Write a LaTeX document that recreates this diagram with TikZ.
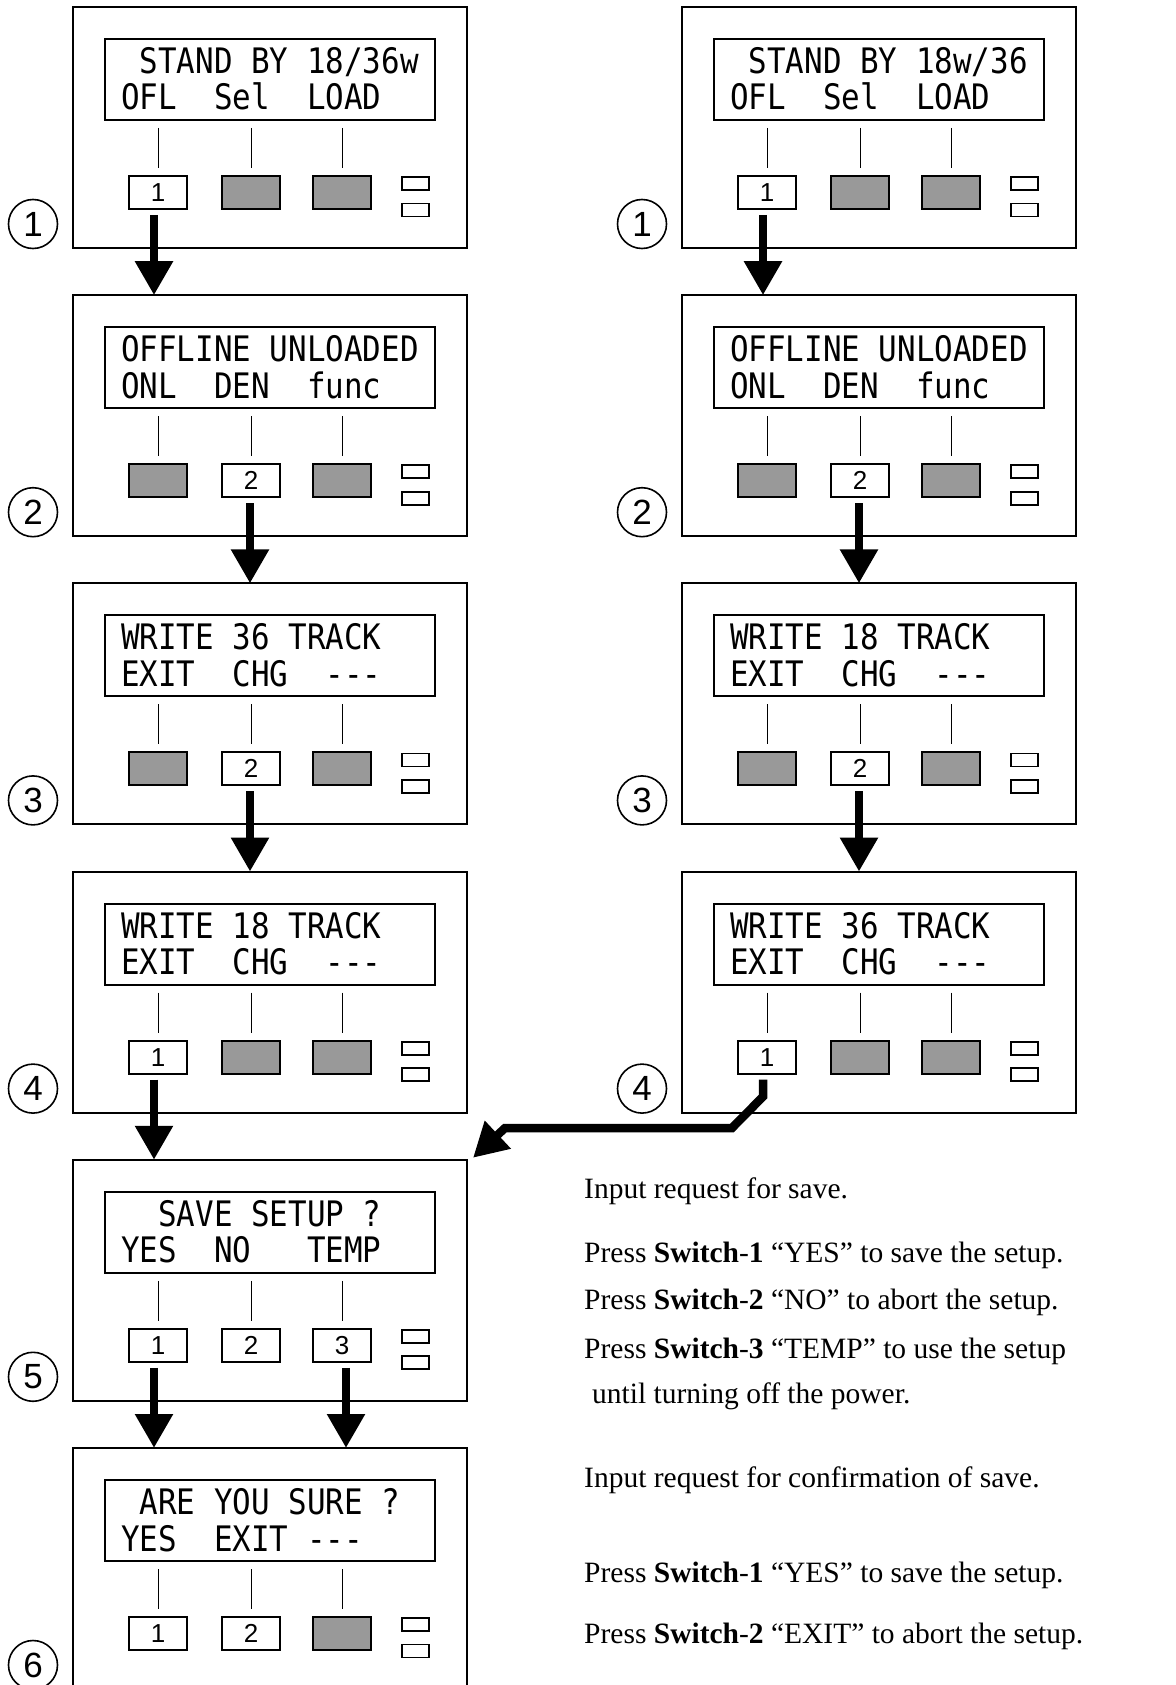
\documentclass[tikz,border=0pt]{standalone}
\usepackage{fontspec}
\setmainfont{Liberation Serif}
\newfontfamily\lcdfont[FakeStretch=0.88]{DejaVu Sans Mono}
\newfontfamily\numfont{Liberation Sans}
\usetikzlibrary{arrows.meta}
\definecolor{btngray}{RGB}{153,153,153}
\tikzset{
  panelbox/.style={draw, line width=2pt, minimum width=394pt, minimum height=241pt, inner sep=0pt, outer sep=0pt, anchor=north west},
  lcdbox/.style={draw, line width=2pt, minimum width=330pt, minimum height=81pt, inner sep=0pt, outer sep=0pt, anchor=north west},
  lcdtext/.style={font=\fontsize{35.1}{35.1}\lcdfont, inner sep=0pt, anchor=base west},
  keyon/.style={draw, line width=2pt, fill=white, minimum width=58pt, minimum height=33pt, inner sep=0pt, outer sep=0pt, font=\fontsize{26}{26}\numfont},
  keyoff/.style={keyon, fill=btngray},
  led/.style={draw, line width=1.8pt, minimum width=27pt, minimum height=13pt, inner sep=0pt, outer sep=0pt},
  wire/.style={line width=1pt},
  stepnum/.style={circle, draw, line width=1.6pt, minimum size=49pt, inner sep=0pt, font=\fontsize{35}{35}\numfont},
  flow/.style={line width=8.5pt, -{Triangle[length=34pt,width=36pt]}},
  desc/.style={font=\fontsize{29.5}{29.5}\selectfont, inner sep=0pt, anchor=base west},
}
\newcommand\panelkey[4]{%
  \if\relax\detokenize{#4}\relax
    \node[keyoff] (#1) at (#2,#3) {};
  \else
    \node[keyon] (#1) at (#2,#3) {#4};
  \fi}
% #1 name, #2 x, #3 y, #4 line1, #5 line2, #6-#8 keys, #9 step
\newcommand\lcdpanel[9]{%
  \node[panelbox] (#1) at (#2,#3) {};
  \node[lcdbox] (#1lcd) at (#2+32,#3+32) {};
  \node[lcdtext] (#1ta) at (#2+48,#3+66.5) {#4};
  \node[lcdtext] (#1tb) at (#2+48,#3+103) {#5};
  \panelkey{#1k1}{#2+85}{#3+185.5}{#6}
  \panelkey{#1k2}{#2+178}{#3+185.5}{#7}
  \panelkey{#1k3}{#2+269}{#3+185.5}{#8}
  \foreach \k in {k1,k2,k3}{
    \draw[wire] ([yshift=-8pt]#1lcd.south -| #1\k.north) -- ([yshift=8pt]#1\k.north);
  }
  \node[led] (#1la) at (#2+342.5,#3+176.5) {};
  \node[led] (#1lb) at (#2+342.5,#3+203) {};
  \node[stepnum] (#1s) at (#2-40,#3+217) {#9};
}
\begin{document}
\begin{tikzpicture}[x=1pt,y=-1pt]
\useasboundingbox (0,0) rectangle (1175,1685);
% left column
\lcdpanel{L1}{73}{7}{~STAND~BY~18/36w}{OFL~~Sel~~LOAD}{1}{}{}{1}
\lcdpanel{L2}{73}{295.2}{OFFLINE~UNLOADED}{ONL~~DEN~~func}{}{2}{}{2}
\lcdpanel{L3}{73}{583.4}{WRITE~36~TRACK}{EXIT~~CHG~~---}{}{2}{}{3}
\lcdpanel{L4}{73}{871.6}{WRITE~18~TRACK}{EXIT~~CHG~~---}{1}{}{}{4}
\lcdpanel{L5}{73}{1159.8}{~~SAVE~SETUP~?}{YES~~NO~~~TEMP}{1}{2}{3}{5}
\lcdpanel{L6}{73}{1448}{~ARE~YOU~SURE~?}{YES~~EXIT~---}{1}{2}{}{6}
% right column
\lcdpanel{R1}{682}{7}{~STAND~BY~18w/36}{OFL~~Sel~~LOAD}{1}{}{}{1}
\lcdpanel{R2}{682}{295.2}{OFFLINE~UNLOADED}{ONL~~DEN~~func}{}{2}{}{2}
\lcdpanel{R3}{682}{583.4}{WRITE~18~TRACK}{EXIT~~CHG~~---}{}{2}{}{3}
\lcdpanel{R4}{682}{871.6}{WRITE~36~TRACK}{EXIT~~CHG~~---}{1}{}{}{4}
% flow arrows
\draw[flow] ([xshift=-4pt,yshift=-6pt]L1k1.south) -- ([xshift=-4pt]L1k1.south |- L2.north);
\draw[flow] ([xshift=-1pt,yshift=-6pt]L2k2.south) -- ([xshift=-1pt]L2k2.south |- L3.north);
\draw[flow] ([xshift=-1pt,yshift=-6pt]L3k2.south) -- ([xshift=-1pt]L3k2.south |- L4.north);
\draw[flow] ([xshift=-4pt,yshift=-6pt]L4k1.south) -- ([xshift=-4pt]L4k1.south |- L5.north);
\draw[flow] ([xshift=-4pt,yshift=-6pt]L5k1.south) -- ([xshift=-4pt]L5k1.south |- L6.north);
\draw[flow] ([xshift=4pt,yshift=-6pt]L5k3.south) -- ([xshift=4pt]L5k3.south |- L6.north);
\draw[flow] ([xshift=-4pt,yshift=-6pt]R1k1.south) -- ([xshift=-4pt]R1k1.south |- R2.north);
\draw[flow] ([xshift=-1pt,yshift=-6pt]R2k2.south) -- ([xshift=-1pt]R2k2.south |- R3.north);
\draw[flow] ([xshift=-1pt,yshift=-6pt]R3k2.south) -- ([xshift=-1pt]R3k2.south |- R4.north);
\draw[flow, line join=miter] ([xshift=-4pt,yshift=-6pt]R4k1.south) -- ++(0,17) -- (732,1128) -- (505,1128) -- ([xshift=6pt,yshift=2pt]L5.north east);
% descriptions
\node[desc] (d1) at (584,1198) {Input request for save.};
\node[desc] (d2) at (584,1262) {Press \textbf{Switch}-\textbf{1} “YES” to save the setup.};
\node[desc] (d3) at (584,1309) {Press \textbf{Switch}-\textbf{2} “NO” to abort the setup.};
\node[desc] (d4) at (584,1358) {Press \textbf{Switch}-\textbf{3} “TEMP” to use the setup};
\node[desc] (d5) at (592,1403) {until turning off the power.};
\node[desc] (d6) at (584,1487) {Input request for confirmation of save.};
\node[desc] (d7) at (584,1582) {Press \textbf{Switch}-\textbf{1} “YES” to save the setup.};
\node[desc] (d8) at (584,1643) {Press \textbf{Switch}-\textbf{2} “EXIT” to abort the setup.};
\end{tikzpicture}
\end{document}
